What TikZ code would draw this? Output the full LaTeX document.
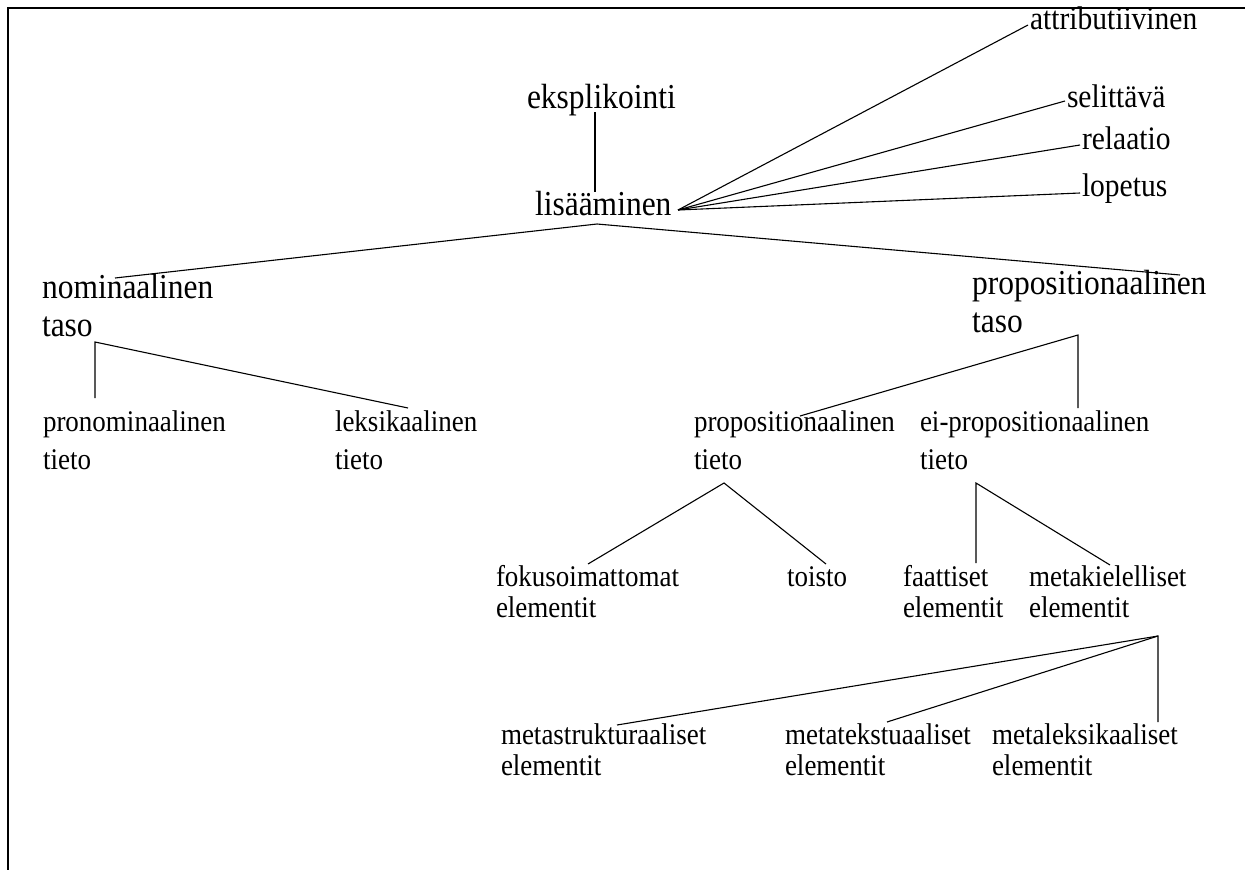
\documentclass[tikz,border=0pt]{standalone}
\usepackage{fontspec}
\setmainfont{Liberation Serif}[FakeStretch=0.9]
\newcommand\twoline[1]{\begin{tabular}[t]{@{}l@{}}#1\end{tabular}}
\tikzset{
  txt/.style={anchor=base west, inner sep=0pt, outer sep=0pt},
  big/.style={txt, font=\fontsize{35}{38}\selectfont},
  med/.style={txt, font=\fontsize{32.8}{36}\selectfont},
  small/.style={txt, font=\fontsize{30}{38}\selectfont},
  smallb/.style={txt, font=\fontsize{30}{31}\selectfont},
  conn/.style={draw=black, line width=1.1pt},
  frame/.style={draw=black, line width=2pt}
}
\begin{document}
\begin{tikzpicture}[x=1pt, y=-1pt]
\useasboundingbox (0,0) rectangle (1245,870);
\draw[frame] (8,870) -- (8,8) -- (1245,8);

% nodes
\node[big] (eks) at (527,108) {eksplikointi};
\node[big] (lis) at (535,215) {lisääminen};
\node[med] (attr) at (1030,29) {attributiivinen};
\node[med] (sel) at (1067,107) {selittävä};
\node[med] (rel) at (1082,149) {relaatio};
\node[med] (lop) at (1082,196) {lopetus};
\node[big] (nom) at (42,298) {\twoline{nominaalinen\\taso}};
\node[big] (prop) at (972,294) {\twoline{propositionaalinen\\taso}};
\node[small] (pron) at (43,431) {\twoline{pronominaalinen\\tieto}};
\node[small] (leks) at (335,431) {\twoline{leksikaalinen\\tieto}};
\node[small] (pt) at (694,431) {\twoline{propositionaalinen\\tieto}};
\node[small] (eipt) at (920,431) {\twoline{ei-propositionaalinen\\tieto}};
\node[smallb] (fok) at (496,586) {\twoline{fokusoimattomat\\elementit}};
\node[smallb] (toi) at (787,586) {toisto};
\node[smallb] (faa) at (903,586) {\twoline{faattiset\\elementit}};
\node[smallb] (mk) at (1029,586) {\twoline{metakielelliset\\elementit}};
\node[smallb] (ms) at (501,744) {\twoline{metastrukturaaliset\\elementit}};
\node[smallb] (mt) at (785,744) {\twoline{metatekstuaaliset\\elementit}};
\node[smallb] (ml) at (992,744) {\twoline{metaleksikaaliset\\elementit}};

% connection points
\coordinate (eksB) at (595,112);
\coordinate (lisT) at (595,192);
\coordinate (lisR) at (678,210);
\coordinate (lisB) at (597,224);
\coordinate (attrL) at (1028,25);
\coordinate (selL) at (1065,101);
\coordinate (relL) at (1080,145);
\coordinate (lopL) at (1080,193);
\coordinate (nomT) at (115,278);
\coordinate (propT) at (1180,275);
\coordinate (nomB) at (95,342);
\coordinate (pronT) at (95,398);
\coordinate (leksT) at (408,408);
\coordinate (propB) at (1078,335);
\coordinate (ptT) at (800,416);
\coordinate (eiptT) at (1078,408);
\coordinate (ptB) at (724,483);
\coordinate (fokT) at (588,564);
\coordinate (toiT) at (826,564);
\coordinate (eiptB) at (976,483);
\coordinate (faaT) at (976,563);
\coordinate (mkT) at (1110,565);
\coordinate (mkB) at (1158,636);
\coordinate (msT) at (617,725);
\coordinate (mtT) at (887,722);
\coordinate (mlT) at (1158,722);

% connectors
\draw[conn] (eksB) -- (lisT);
\draw[conn] (lisR) -- (attrL);
\draw[conn] (lisR) -- (selL);
\draw[conn] (lisR) -- (relL);
\draw[conn] (lisR) -- (lopL);
\draw[conn] (nomT) -- (lisB) -- (propT);
\draw[conn] (pronT) -- (nomB) -- (leksT);
\draw[conn] (ptT) -- (propB) -- (eiptT);
\draw[conn] (fokT) -- (ptB) -- (toiT);
\draw[conn] (faaT) -- (eiptB) -- (mkT);
\draw[conn] (msT) -- (mkB) -- (mlT);
\draw[conn] (mtT) -- (mkB);
\end{tikzpicture}
\end{document}
